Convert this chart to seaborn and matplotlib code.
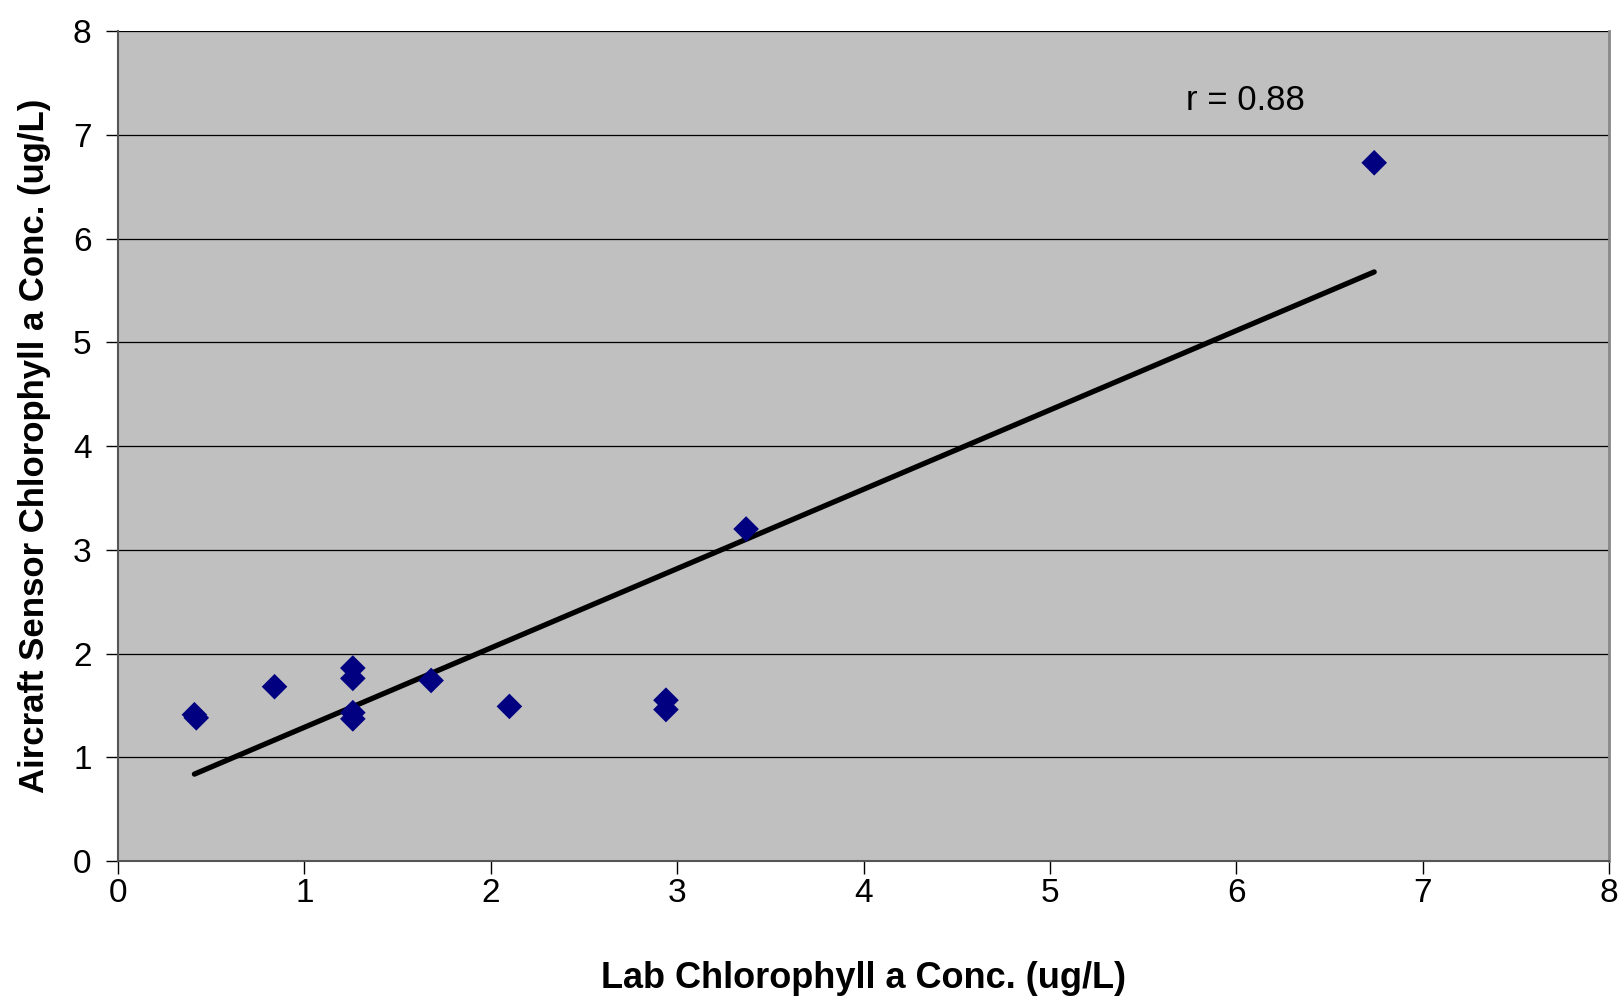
import numpy as np
import pandas as pd
import matplotlib
matplotlib.use("Agg")
import matplotlib.pyplot as plt
import seaborn as sns

# Values
lab_chl = [0.41, 0.42, 0.84, 1.26, 1.26, 1.26, 1.26, 1.68, 2.10, 2.94, 2.94, 3.37, 6.74]
aircraft_chl = [1.41, 1.38, 1.68, 1.86, 1.76, 1.43, 1.37, 1.74, 1.49, 1.55, 1.46, 3.20, 6.73]
ticks = [0, 1, 2, 3, 4, 5, 6, 7, 8]

df = pd.DataFrame({"lab": lab_chl, "aircraft": aircraft_chl})
r = np.corrcoef(df["lab"], df["aircraft"])[0, 1]

sns.set_style("white")
plt.rcParams["font.family"] = ["Liberation Sans", "DejaVu Sans"]
plt.rcParams["text.color"] = "black"
plt.rcParams["axes.labelcolor"] = "black"

fig = plt.figure(figsize=(16.23, 9.97), dpi=100)
ax = fig.add_axes([0.0727, 0.1364, 0.9187, 0.8325])
ax.set_facecolor("#C0C0C0")

sns.regplot(data=df, x="lab", y="aircraft", ax=ax, ci=None, truncate=True,
            marker="D",
            scatter_kws={"s": 170, "color": "#000080", "alpha": 1,
                         "edgecolor": "none", "zorder": 3},
            line_kws={"color": "black", "lw": 3.8, "solid_capstyle": "round", "zorder": 2})

ax.set_xlim(0, 8)
ax.set_ylim(0, 8)
ax.set_xticks(ticks)
ax.set_yticks(ticks)
ax.yaxis.grid(True, color="black", lw=0.9)
ax.set_axisbelow(True)
ax.tick_params(axis="both", direction="out", length=9, width=1, labelsize=24,
               colors="black", left=True, bottom=True)
ax.tick_params(axis="x", pad=3)
ax.tick_params(axis="y", pad=10)

for side in ["left", "bottom"]:
    ax.spines[side].set_color("#555555")
    ax.spines[side].set_linewidth(1.5)
ax.spines["right"].set_color("#888888")
ax.spines["right"].set_linewidth(2)
ax.spines["top"].set_visible(False)

ax.set_xlabel("Lab Chlorophyll a Conc. (ug/L)", fontsize=26, fontweight="bold", labelpad=38)
ax.set_ylabel("Aircraft Sensor Chlorophyll a Conc. (ug/L)", fontsize=25, fontweight="bold", labelpad=16)

ax.text(5.73, 7.33, f"r = {r:.2f}", fontsize=25, va="center", ha="left")

fig.savefig("out.png", dpi=100)
